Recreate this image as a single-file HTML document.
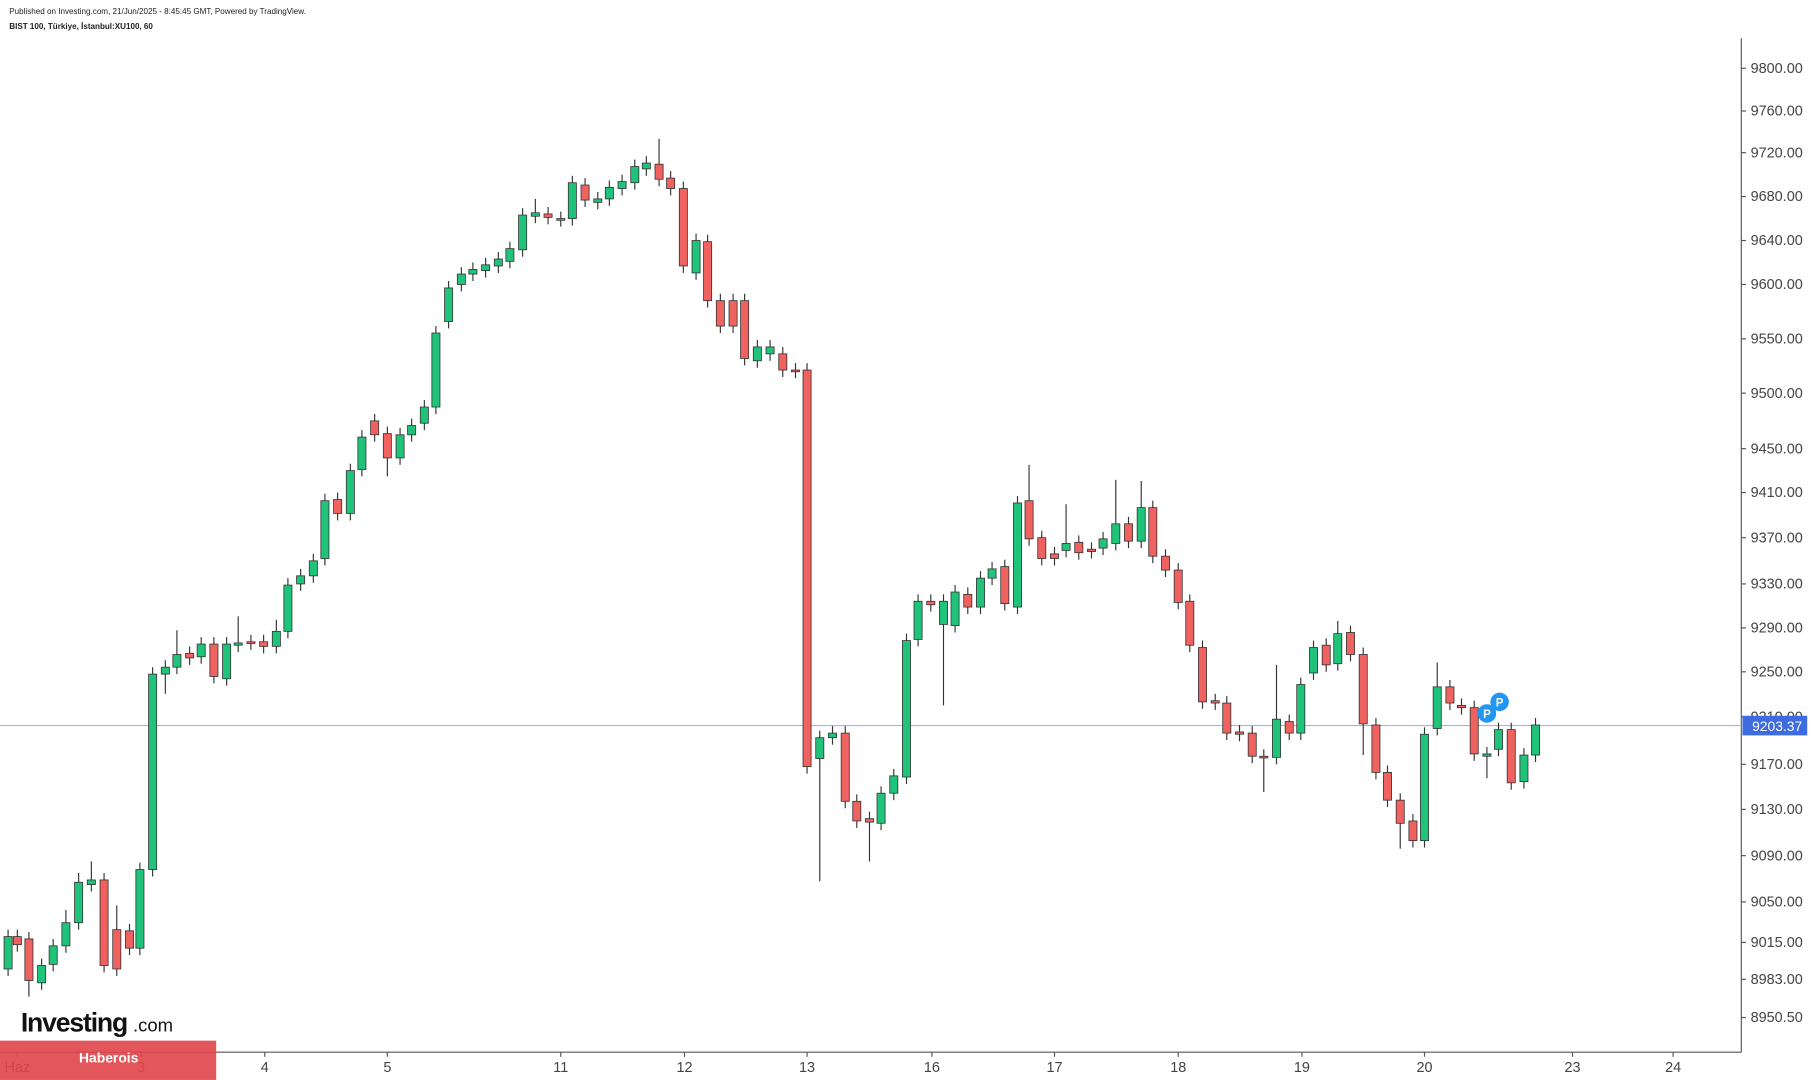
<!DOCTYPE html>
<html><head><meta charset="utf-8"><style>
html,body{margin:0;padding:0;background:#fff;}
svg{display:block;}
text{font-family:"Liberation Sans",sans-serif;}
</style></head><body>
<svg id="s" width="1813" height="1080" viewBox="0 0 1568 934" xmlns="http://www.w3.org/2000/svg">
<rect width="1568" height="934" fill="#fff"/>
<text x="8" y="12" font-size="7" fill="#222">Published on Investing.com, 21/Jun/2025 - 8:45:45 GMT, Powered by TradingView.</text>
<text x="8" y="25" font-size="7" fill="#222" font-weight="bold">BIST 100, Türkiye, İstanbul:XU100, 60</text>
<line x1="1506" y1="33" x2="1506" y2="910" stroke="#555" stroke-width="1"/>
<line x1="0" y1="910" x2="1506" y2="910" stroke="#555" stroke-width="1"/>
<line x1="0" y1="627.5" x2="1506" y2="627.5" stroke="#9fb3ee" stroke-width="0.9"/>
<g id="g"></g>
<circle cx="1286" cy="617" r="8" fill="#2196f3"/><text x="1286" y="621" font-size="10" fill="#fff" text-anchor="middle" font-weight="bold">P</text>
<circle cx="1297" cy="607" r="8" fill="#2196f3"/><text x="1297" y="611" font-size="10" fill="#fff" text-anchor="middle" font-weight="bold">P</text>
<rect x="1507" y="619" width="56" height="17" fill="#3d6ce0"/>
<text x="1537" y="632" font-size="12" fill="#fff" text-anchor="middle">9203.37</text>
<text x="18" y="892" font-size="23" font-weight="bold" fill="#111" letter-spacing="-1">Investing</text><text x="115" y="892" font-size="16" fill="#111">.com</text>
<rect x="0" y="900" width="187" height="34" fill="#e0454a" opacity="0.9"/>
<text x="94" y="919" font-size="12" fill="#fff" font-weight="bold" text-anchor="middle">Haberois</text>
</svg>
<script>
const g=document.getElementById('g');let h='';
const ticks=[[9800,59],[9760,96],[9720,132],[9680,170],[9640,208],[9600,246],[9550,293],[9500,340],[9450,388],[9410,426],[9370,465],[9330,505],[9290,543],[9250,581],[9210,620],[9170,661],[9130,700],[9090,740],[9050,780],[9015,815],[8983,847],[8950.5,880]];
for(const [v,y] of ticks){h+=`<line x1="1506" y1="${y}" x2="1510" y2="${y}" stroke="#555"/>`;
h+=`<text x="1514" y="${y+4}" font-size="12.5" fill="#444">${v.toFixed(2)}</text>`;}
const xl=[["Haz",15],["3",122],["4",229],["5",335],["11",485],["12",592],["13",698],["16",806],["17",912],["18",1019],["19",1126],["20",1232],["23",1360],["24",1447]];
for(const [t,x] of xl){h+=`<line x1="${x}" y1="910" x2="${x}" y2="914" stroke="#555"/><text x="${x}" y="927" font-size="12.5" fill="#444" text-anchor="middle">${t}</text>`;}
const c=[[7,'g',810,838],[15,'r',810,817],[25,'r',812,848,0,862],[36,'g',835,850],[46,'g',818,834],[57,'g',798,818,787],[68,'g',763,798,755],[79,'g',761,765,745],[90,'r',761,835],[101,'r',804,838,783],[112,'r',805,820],[121,'g',752,820],[132,'g',583,752],[143,'g',577,583,0,600],[153,'g',566,577,545],[164,'r',565,569],[174,'g',557,568],[185,'r',557,585],[196,'g',557,587],[206,'g',556,558,533],[217,'r',555,556],[228,'r',555,559],[239,'g',546,559,536],[249,'g',506,546],[260,'g',498,505],[271,'g',485,498],[281,'g',433,483],[292,'r',432,444],[303,'g',407,444],[313,'g',378,406],[324,'r',364,376],[335,'r',375,396,0,412],[346,'g',376,396],[356,'g',368,376],[367,'g',352,366],[377,'g',288,352],[388,'g',249,278],[399,'g',237,246],[409,'g',233,237],[420,'g',229,234],[431,'g',224,230],[441,'g',215,226],[452,'g',186,216],[463,'g',184,187,172],[474,'r',185,188],[485,'r',189,190],[495,'g',158,189],[506,'r',160,173],[517,'g',172,175],[527,'g',162,172],[538,'g',157,163],[549,'g',144,158],[559,'g',141,146],[570,'r',142,155,120],[580,'r',154,163],[591,'r',163,230],[602,'g',208,236],[612,'r',209,260],[623,'r',260,282],[634,'r',260,282],[644,'r',260,310],[655,'g',300,312],[666,'g',300,306],[677,'r',306,320],[688,'r',320,321],[698,'r',320,663],[709,'g',638,656,0,762],[720,'g',634,638],[731,'r',634,693],[741,'r',693,710],[752,'r',708,711,0,745],[762,'g',686,712],[773,'g',671,686],[784,'g',554,672],[794,'g',520,553],[805,'r',520,523],[816,'g',520,540,0,610],[826,'g',512,541],[837,'r',514,525],[848,'g',500,525],[858,'g',492,500],[869,'r',490,522],[880,'g',435,525],[890,'r',433,466,402],[901,'r',465,483],[912,'r',479,483],[922,'g',470,476,436],[933,'r',469,478],[944,'r',475,477],[954,'g',466,474],[965,'g',453,470,415],[976,'r',453,468],[987,'g',439,468,416],[997,'r',439,481],[1008,'r',481,493],[1019,'r',493,521],[1029,'r',520,558],[1040,'r',560,607],[1051,'r',606,608],[1061,'r',608,634],[1072,'r',633,635],[1083,'r',634,654],[1093,'r',654,655,0,685],[1104,'g',622,655,575],[1115,'r',624,634],[1125,'g',592,634],[1136,'g',560,582],[1147,'r',558,575],[1157,'g',548,574,537],[1168,'r',547,566],[1179,'r',566,626,0,653],[1190,'r',627,668],[1200,'r',668,692],[1211,'r',692,712,0,734],[1222,'r',710,727],[1232,'g',635,727],[1243,'g',594,630,573],[1254,'r',594,608],[1264,'r',610,612],[1275,'r',612,652],[1286,'g',652,654,0,673],[1296,'g',631,648],[1307,'r',631,677],[1318,'g',653,676],[1328,'g',627,653]];
for(const k of c){const [x,col,t,b,hi,lo]=k;const H=hi||t-6,L=lo||b+6;
h+=`<line x1="${x}" y1="${H}" x2="${x}" y2="${L}" stroke="#333" stroke-width="1"/>`;
h+=`<rect x="${x-3.5}" y="${t}" width="7" height="${Math.max(b-t,1.5)}" fill="${col=='g'?'#1fc47a':'#f0625f'}" stroke="#333" stroke-width="0.7"/>`;}
g.innerHTML=h;
</script>
</body></html>
